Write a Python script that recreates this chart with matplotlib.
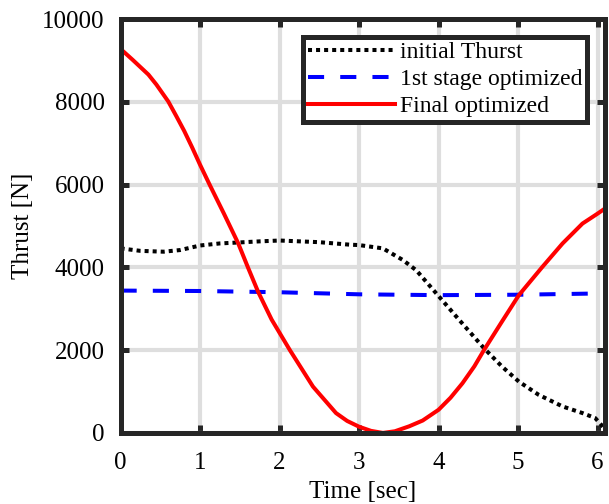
import matplotlib
matplotlib.use("Agg")
import matplotlib.pyplot as plt

plt.rcParams['font.family'] = ['Liberation Serif', 'DejaVu Serif']

# values
t_init = [0, 0.25, 0.54, 0.75, 1.0, 1.25, 1.46, 1.75, 2.0, 2.5, 2.88, 3.0,
          3.3, 3.55, 3.72, 3.99, 4.26, 4.57, 4.8, 5.01, 5.26, 5.56, 5.81,
          5.97, 6.09]
initial = [4460, 4400, 4380, 4420, 4530, 4580, 4600, 4630, 4650, 4610, 4550,
           4540, 4460, 4180, 3930, 3330, 2730, 2050, 1600, 1240, 920, 640,
           480, 360, 100]

t_stage1 = [0, 1, 2, 3, 4, 5, 6, 6.09]
stage1 = [3440, 3430, 3400, 3350, 3330, 3340, 3370, 3380]

t_final = [0, 0.15, 0.35, 0.45, 0.6, 0.7, 0.8, 0.9, 1.0, 1.12, 1.3, 1.48,
           1.6, 1.73, 1.9, 2.13, 2.42, 2.71, 2.85, 3.0, 3.15, 3.3, 3.45,
           3.63, 3.8, 4.0, 4.15, 4.3, 4.45, 4.57, 4.8, 5.01, 5.3, 5.56, 5.81,
           6.0, 6.09]
final = [9280, 9020, 8660, 8420, 8010, 7660, 7300, 6900, 6480, 6000, 5300,
         4580, 4010, 3410, 2740, 2000, 1120, 480, 290, 150, 50, 0, 40, 160,
         300, 560, 850, 1200, 1610, 2000, 2700, 3330, 4000, 4580, 5060, 5300,
         5420]

fig = plt.figure(figsize=(6.09, 5.04), dpi=100)
ax = fig.add_axes([0.198, 0.141, 0.795, 0.821])

ax.plot(t_init, initial, color='black', ls=(0, (1, 1)), lw=2.9, label='initial Thurst')
ax.plot(t_stage1, stage1, color='blue', ls=(0, (4, 4)), lw=2.9, label='1st stage optimized')
ax.plot(t_final, final, color='red', lw=2.9, label='Final optimized')

ax.set_xlim(0, 6.09)
ax.set_ylim(0, 10000)
ax.set_xticks([0, 1, 2, 3, 4, 5, 6])
ax.set_yticks([0, 2000, 4000, 6000, 8000, 10000])
ax.grid(True, color='#dedede', lw=3)
ax.set_axisbelow(True)
for s in ax.spines.values():
    s.set_linewidth(3.6)
    s.set_color('#262626')
ax.tick_params(direction='in', length=6, width=3.6, color='#262626',
               top=True, right=True, labelsize=18)
ax.tick_params(axis='x', pad=14)
ax.tick_params(axis='y', pad=11.5)
ax.set_xlabel('Time [sec]', fontsize=18, labelpad=5)
ax.set_ylabel('Thrust [N]', fontsize=18, labelpad=6)

leg = ax.legend(loc='upper right', bbox_to_anchor=(0.964, 0.957), fontsize=17,
                fancybox=False, framealpha=1, handlelength=3.7,
                handletextpad=0.2, borderpad=0.2, labelspacing=0.23,
                borderaxespad=0)
leg.get_frame().set_edgecolor('#262626')
leg.get_frame().set_linewidth(3.6)

fig.savefig('out.png', dpi=100)
